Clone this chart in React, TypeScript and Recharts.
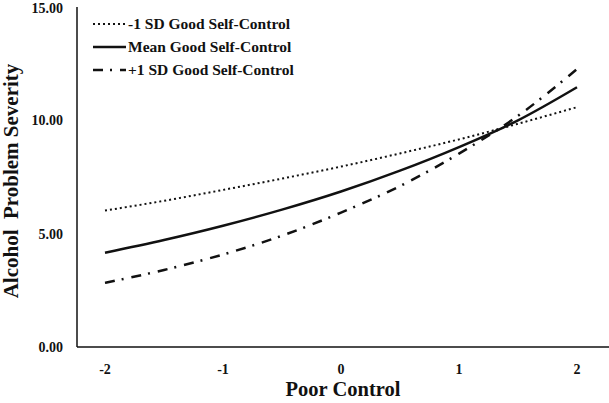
import React from 'react';
import { Legend, Line, LineChart, XAxis, YAxis } from 'recharts';

const poorControl = [-2, -1.5, -1, -0.5, 0, 0.5, 1, 1.5, 2];
const lowSelfControl = [6.02, 6.45, 6.93, 7.43, 7.96, 8.54, 9.16, 9.85, 10.58];
const meanSelfControl = [4.16, 4.72, 5.35, 6.06, 6.86, 7.78, 8.82, 10.0, 11.46];
const highSelfControl = [2.83, 3.4, 4.08, 4.91, 5.93, 7.1, 8.53, 10.2, 12.26];
const xTicks = [-2, -1, 0, 1, 2];
const yTicks = [0, 5, 10, 15];

const FONT = '"Liberation Serif", "Times New Roman", serif';

const series = [
  { key: 'low', name: '-1 SD Good Self-Control', dash: '2 3', width: 2 },
  { key: 'mean', name: 'Mean Good Self-Control', dash: undefined, width: 2.5 },
  { key: 'high', name: '+1 SD Good Self-Control', dash: '10 7 2 8', width: 2.5 }
];

const data = poorControl.map((x, i) => ({
  x,
  low: lowSelfControl[i],
  mean: meanSelfControl[i],
  high: highSelfControl[i]
}));

const LegendBox = () => (
  <div style={{ fontFamily: FONT, fontWeight: 'bold', fontSize: 15.5, color: '#111' }}>
    {series.map(s => (
      <div key={s.key} style={{ display: 'flex', alignItems: 'center', height: 23 }}>
        <svg width={34} height={10}>
          <line x1={0} y1={5} x2={33} y2={5} stroke="#111" strokeWidth={s.width} strokeDasharray={s.dash} />
        </svg>
        <span style={{ marginLeft: 1 }}>{s.name}</span>
      </div>
    ))}
  </div>
);

const YLabel = (props: any) => {
  const vb = props.viewBox || { x: 0, y: 0, height: 0 };
  const cx = 11;
  const cy = vb.y + vb.height / 2 + 4;
  return (
    <text
      x={cx}
      y={cy}
      transform={`rotate(-90 ${cx} ${cy})`}
      textAnchor="middle"
      dominantBaseline="central"
      style={{ whiteSpace: 'pre' }}
      fontFamily={FONT}
      fontWeight="bold"
      fontSize={21}
      fill="#111"
    >
      Alcohol  Problem Severity
    </text>
  );
};

export default function App() {
  return (
    <div style={{ position: 'absolute', left: 0, top: 0, background: '#fff' }}>
      <LineChart width={609} height={403} data={data} margin={{ top: 7, right: 0, bottom: 0, left: 0 }}>
        <XAxis
          dataKey="x"
          type="number"
          domain={[-2, 2]}
          ticks={xTicks}
          padding={{ left: 28, right: 32 }}
          height={56}
          tickLine={false}
          tickSize={0}
          tickMargin={17}
          axisLine={{ stroke: '#111', strokeWidth: 1.5 }}
          tick={{ fill: '#111', fontFamily: FONT, fontWeight: 'bold', fontSize: 14 }}
          label={{
            value: 'Poor Control',
            position: 'insideBottom',
            offset: 7,
            fill: '#111',
            fontFamily: FONT,
            fontWeight: 'bold',
            fontSize: 20.5
          }}
        />
        <YAxis
          type="number"
          domain={[0, 15]}
          ticks={yTicks}
          width={77}
          tickLine={false}
          tickSize={0}
          tickMargin={14}
          axisLine={{ stroke: '#111', strokeWidth: 1.5 }}
          tickFormatter={(v: number) => v.toFixed(2)}
          tick={{ fill: '#111', fontFamily: FONT, fontWeight: 'bold', fontSize: 14 }}
          label={<YLabel />}
        />
        <Legend
          content={<LegendBox />}
          layout="horizontal"
          verticalAlign="middle"
          align="center"
          wrapperStyle={{ left: 93, top: 12, width: 'auto' }}
        />
        {series.map(s => (
          <Line
            key={s.key}
            dataKey={s.key}
            name={s.name}
            type="monotone"
            stroke="#111"
            strokeWidth={s.width}
            strokeDasharray={s.dash}
            dot={false}
            activeDot={false}
            isAnimationActive={false}
          />
        ))}
      </LineChart>
    </div>
  );
}
